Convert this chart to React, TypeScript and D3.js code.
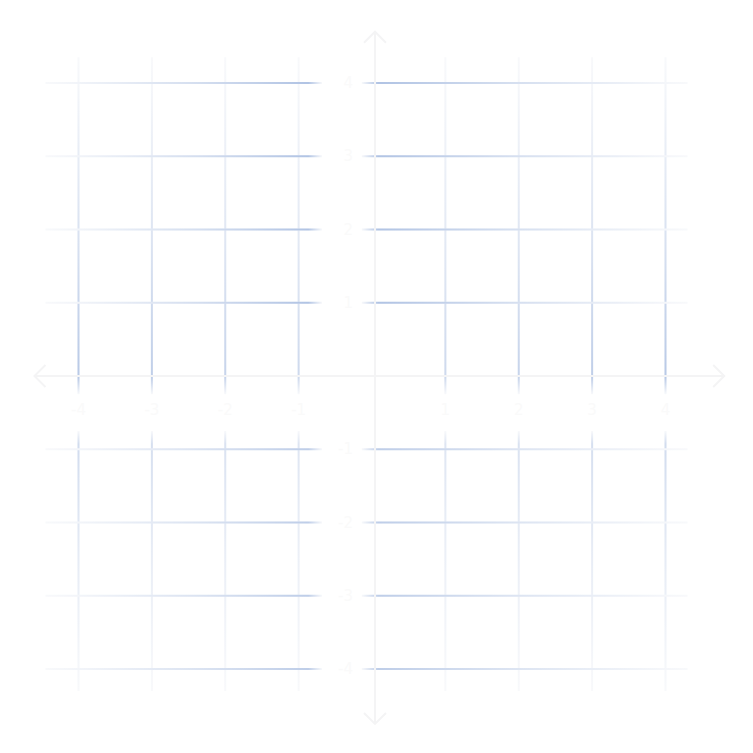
import { useEffect, useRef } from 'react'
import * as d3 from 'd3'

const xTicks = [-4, -3, -2, -1, 1, 2, 3, 4]
const yTicks = [-4, -3, -2, -1, 1, 2, 3, 4]
const xLabels = ['-4', '-3', '-2', '-1', '1', '2', '3', '4']
const yLabels = ['-4', '-3', '-2', '-1', '1', '2', '3', '4']

export default function App() {
  const svgRef = useRef<SVGSVGElement>(null)

  useEffect(() => {
    if (!svgRef.current) return
    const width = 753
    const height = 753
    const svg = d3.select(svgRef.current)
    svg.selectAll('*').remove()

    const x = d3.scaleLinear().domain([-4, 4]).range([78.5, 665.5])
    const y = d3.scaleLinear().domain([-4, 4]).range([669, 83])

    const blue = '#9fb6de'
    const defs = svg.append('defs')
    let gid = 0

    // gradient along a segment: strong at (x1,y1), fading toward (x2,y2)
    const grad = (x1: number, y1: number, x2: number, y2: number, a: number) => {
      const id = `g${gid++}`
      const g = defs.append('linearGradient')
        .attr('id', id)
        .attr('gradientUnits', 'userSpaceOnUse')
        .attr('x1', x1).attr('y1', y1).attr('x2', x2).attr('y2', y2)
      g.append('stop').attr('offset', 0).attr('stop-color', blue).attr('stop-opacity', 0)
      g.append('stop').attr('offset', 0.05).attr('stop-color', blue).attr('stop-opacity', a)
      g.append('stop').attr('offset', 0.45).attr('stop-color', blue).attr('stop-opacity', a * 0.5)
      g.append('stop').attr('offset', 0.9).attr('stop-color', blue).attr('stop-opacity', a * 0.08)
      g.append('stop').attr('offset', 1).attr('stop-color', blue).attr('stop-opacity', 0)
      return `url(#${id})`
    }

    const grid = svg.append('g')
    const seg = (x1: number, y1: number, x2: number, y2: number, a: number) => {
      grid.append('line')
        .attr('x1', x1).attr('y1', y1).attr('x2', x2).attr('y2', y2)
        .attr('stroke', '#f8f9fb')
        .attr('stroke-width', 2)
      grid.append('line')
        .attr('x1', x1).attr('y1', y1).attr('x2', x2).attr('y2', y2)
        .attr('stroke', grad(x1, y1, x2, y2, a))
        .attr('stroke-width', 2)
    }

    // vertical grid lines
    xTicks.forEach(t => {
      const a = 0.4 + Math.abs(t) * 0.08
      seg(x(t), y(-0.25), x(t), y(4.35), a)
      seg(x(t), y(-0.75), x(t), y(-4.3), a * 0.6)
    })

    // horizontal grid lines
    yTicks.forEach(t => {
      const a = t > 0 ? 0.8 : 0.65
      seg(x(-0.68), y(t), x(-4.45), y(t), a)
      seg(x(-0.14), y(t), x(4.3), y(t), a)
    })

    // axes with arrows
    const axes = svg.append('g')
      .attr('stroke', '#f4f4f5')
      .attr('stroke-width', 2)
      .attr('fill', 'none')
    const x0 = x(0) + 3
    const y0 = y(0)
    axes.append('line').attr('x1', x(-4.6)).attr('y1', y0).attr('x2', x(4.8)).attr('y2', y0)
    axes.append('line').attr('x1', x0).attr('y1', y(4.7)).attr('x2', x0).attr('y2', y(-4.75))
    const ah = 11
    axes.append('path').attr('d', `M${x(4.8) - ah},${y0 - ah}L${x(4.8)},${y0}L${x(4.8) - ah},${y0 + ah}`)
    axes.append('path').attr('d', `M${x(-4.6) + ah},${y0 - ah}L${x(-4.6)},${y0}L${x(-4.6) + ah},${y0 + ah}`)
    axes.append('path').attr('d', `M${x0 - ah},${y(4.7) + ah}L${x0},${y(4.7)}L${x0 + ah},${y(4.7) + ah}`)
    axes.append('path').attr('d', `M${x0 - ah},${y(-4.75) - ah}L${x0},${y(-4.75)}L${x0 + ah},${y(-4.75) - ah}`)

    // tick labels (nearly invisible)
    const labels = svg.append('g')
      .attr('font-family', 'DejaVu Sans, sans-serif')
      .attr('font-size', 15)
      .attr('fill', '#fafafa')
    xTicks.forEach((t, i) => {
      labels.append('text')
        .attr('x', x(t))
        .attr('y', y0 + 39)
        .attr('text-anchor', 'middle')
        .text(xLabels[i])
    })
    yTicks.forEach((t, i) => {
      labels.append('text')
        .attr('x', x0 - 22)
        .attr('y', y(t) + 5)
        .attr('text-anchor', 'end')
        .text(yLabels[i])
    })

    svg.attr('width', width).attr('height', height)
  }, [])

  return (
    <svg
      ref={svgRef}
      width={753}
      height={753}
      style={{ position: 'absolute', left: 0, top: 0, background: '#fff' }}
    />
  )
}
